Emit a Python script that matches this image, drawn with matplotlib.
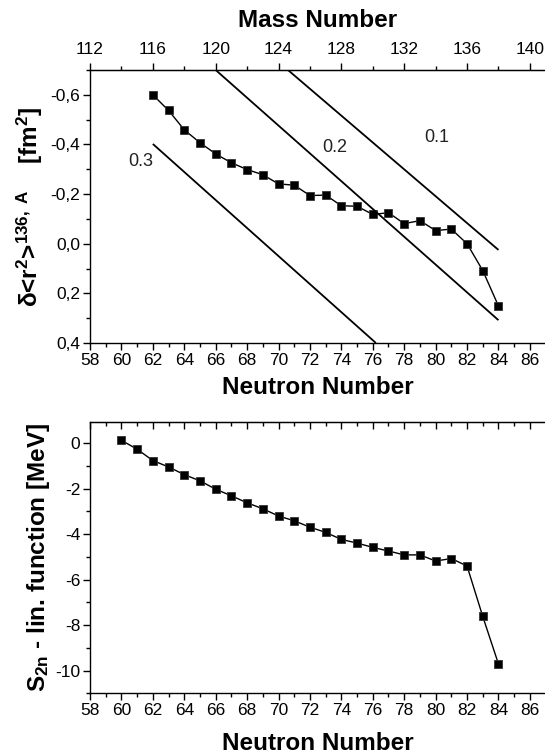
import matplotlib
matplotlib.use("Agg")
import matplotlib.pyplot as plt
from matplotlib.ticker import MultipleLocator, FixedLocator, FixedFormatter, NullFormatter

plt.rcParams['font.family'] = ['Liberation Sans', 'DejaVu Sans']
plt.rcParams['mathtext.fontset'] = 'custom'
plt.rcParams['mathtext.rm'] = 'Liberation Sans'
plt.rcParams['mathtext.it'] = 'Liberation Sans'
plt.rcParams['mathtext.bf'] = 'Liberation Sans:bold'
plt.rcParams['mathtext.default'] = 'regular'
plt.rcParams['axes.unicode_minus'] = False

# ---------------- data ----------------
Z_XE = 54  # mass number = neutron number + Z

n_radius = [62, 63, 64, 65, 66, 67, 68, 69, 70, 71, 72, 73,
            74, 75, 76, 77, 78, 79, 80, 81, 82, 83, 84]
d_r2 = [-0.600, -0.537, -0.459, -0.407, -0.362, -0.326, -0.299, -0.278,
        -0.241, -0.236, -0.194, -0.196, -0.153, -0.151, -0.118, -0.125,
        -0.081, -0.093, -0.053, -0.059, 0.000, 0.108, 0.251]

# deformation reference lines (beta values) : endpoints (N, value)
beta_labels = ['0.1', '0.2', '0.3']
beta_n = [[70.6, 84.0], [66.0, 84.0], [62.0, 76.2]]
beta_y = [[-0.70, 0.025], [-0.70, 0.308], [-0.402, 0.40]]
beta_label_n = [80.1, 73.6, 61.2]
beta_label_y = [-0.43, -0.386, -0.33]

n_s2n = [60, 61, 62, 63, 64, 65, 66, 67, 68, 69, 70, 71, 72,
         73, 74, 75, 76, 77, 78, 79, 80, 81, 82, 83, 84]
s2n_lin = [0.13, -0.26, -0.76, -1.04, -1.38, -1.65, -2.02, -2.31, -2.62,
           -2.88, -3.20, -3.41, -3.69, -3.92, -4.23, -4.39, -4.58, -4.74,
           -4.91, -4.91, -5.18, -5.07, -5.40, -7.62, -9.71]

x_ticks = list(range(58, 88, 2))
mass_ticks = list(range(112, 141, 4))
top_yticks = [-0.6, -0.4, -0.2, 0.0, 0.2, 0.4]
top_yticklabels = ['-0,6', '-0,4', '-0,2', '0,0', '0,2', '0,4']
bot_yticks = [0, -2, -4, -6, -8, -10]

# ---------------- figure ----------------
W, H = 545, 756
fig = plt.figure(figsize=(W / 100, H / 100), dpi=100)

def px_axes(left, top, right, bottom):
    return fig.add_axes([left / W, 1 - bottom / H, (right - left) / W, (bottom - top) / H])

ax1 = px_axes(90, 70, 545.6, 343)
ax2 = px_axes(90, 421.7, 545.6, 693.3)

tick_fs = 12.5
label_fs = 17.5
mk = dict(marker='s', markersize=6, color='black', markeredgecolor='#333333',
          markeredgewidth=0.6, linewidth=1.0)

# ---- top panel ----
ax1.plot(n_radius, d_r2, **mk)
for lab, xs, ys, lx, ly in zip(beta_labels, beta_n, beta_y, beta_label_n, beta_label_y):
    ax1.plot(xs, ys, color='black', linewidth=1.3, solid_capstyle='butt')
    ax1.text(lx, ly, lab, fontsize=13, ha='center', va='center', color='#222222')

ax1.set_xlim(58, 87)
ax1.set_ylim(0.4, -0.7)
ax1.xaxis.set_major_locator(FixedLocator(x_ticks))
ax1.xaxis.set_minor_locator(MultipleLocator(1))
ax1.yaxis.set_major_locator(FixedLocator(top_yticks))
ax1.yaxis.set_major_formatter(FixedFormatter(top_yticklabels))
ax1.yaxis.set_minor_locator(MultipleLocator(0.1))
ax1.spines['right'].set_visible(False)
ax1.tick_params(axis='both', which='major', direction='out', length=5, width=1,
                labelsize=tick_fs, pad=2)
ax1.tick_params(axis='both', which='minor', direction='out', length=3, width=1)
ax1.set_xlabel('Neutron Number', fontsize=label_fs, fontweight='bold', labelpad=6)
ax1.set_ylabel(r'$\delta$<r$^{\mathbf{2}}$>$^{\mathbf{136,\ A}}$    [fm$^{\mathbf{2}}$]',
               fontsize=label_fs, fontweight='bold', labelpad=4)

sec = ax1.secondary_xaxis('top', functions=(lambda n: n + Z_XE, lambda a: a - Z_XE))
sec.xaxis.set_major_locator(FixedLocator(mass_ticks))
sec.xaxis.set_minor_locator(MultipleLocator(2))
sec.tick_params(axis='x', which='major', direction='out', length=5, width=1,
                labelsize=tick_fs, pad=4)
sec.tick_params(axis='x', which='minor', direction='out', length=3, width=1)
sec.set_xlabel('Mass Number', fontsize=label_fs, fontweight='bold', labelpad=11)

# ---- bottom panel ----
ax2.plot(n_s2n, s2n_lin, **mk)
ax2.set_xlim(58, 87)
ax2.set_ylim(-11, 0.95)
ax2.xaxis.set_major_locator(FixedLocator(x_ticks))
ax2.xaxis.set_minor_locator(MultipleLocator(1))
ax2.yaxis.set_major_locator(FixedLocator(bot_yticks))
ax2.yaxis.set_minor_locator(MultipleLocator(1))
ax2.spines['right'].set_visible(False)
ax2.tick_params(axis='both', which='major', direction='out', length=5, width=1,
                labelsize=tick_fs, pad=2)
ax2.tick_params(axis='both', which='minor', direction='out', length=3, width=1)
ax2.set_xlabel('Neutron Number', fontsize=label_fs, fontweight='bold', labelpad=10)
ax2.set_ylabel(r'S$_{\mathbf{2n}}$ - lin. function [MeV]', fontsize=label_fs,
               fontweight='bold', labelpad=2)

top2 = ax2.secondary_xaxis('top', functions=(lambda n: n, lambda n: n))
top2.xaxis.set_major_locator(FixedLocator(x_ticks))
top2.xaxis.set_minor_locator(MultipleLocator(1))
top2.xaxis.set_major_formatter(NullFormatter())
top2.tick_params(axis='x', which='major', direction='in', length=5, width=1)
top2.tick_params(axis='x', which='minor', direction='in', length=3, width=1)

for ax in (ax1, ax2):
    for s in ax.spines.values():
        s.set_linewidth(1.0)

fig.savefig('out.png', dpi=100)
